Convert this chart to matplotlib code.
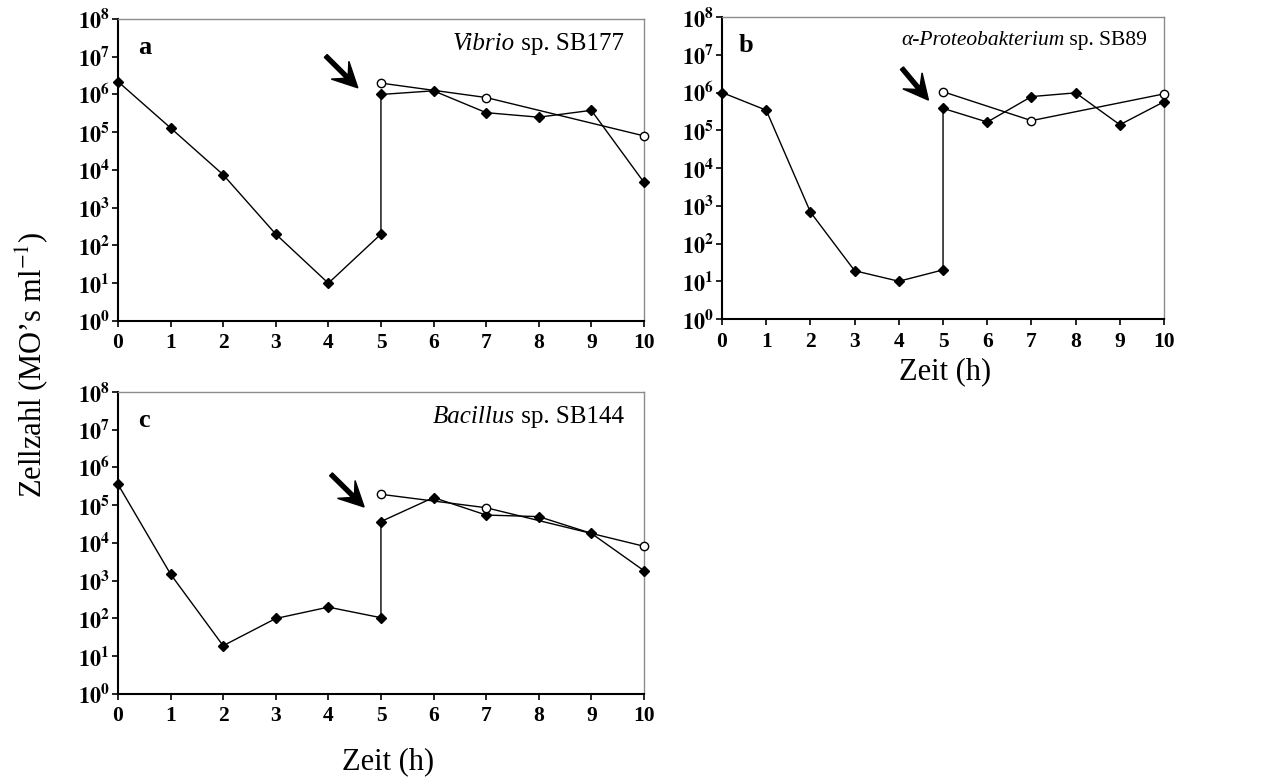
"""
Zellzahl-Verlauf (log) fuer drei Isolate, Panels a-c.
"""

import matplotlib
matplotlib.use("Agg")
import matplotlib.pyplot as plt
from matplotlib.patches import FancyArrow
from matplotlib.transforms import IdentityTransform
from matplotlib.offsetbox import TextArea, HPacker, AnchoredOffsetbox

plt.rcParams["font.family"] = ["Liberation Serif", "DejaVu Serif"]
plt.rcParams["mathtext.fontset"] = "stix"

# x positions: the treatment at 5 h gives two values (before/after)
hours_filled = [0, 1, 2, 3, 4, 5, 5, 6, 7, 8, 9, 10]
hours_open = [5, 7, 10]

vibrio_filled = [2.2e6, 1.3e5, 7.5e3, 200, 10, 200, 1.0e6, 1.25e6, 3.3e5, 2.5e5, 3.8e5, 4.7e3]
vibrio_open = [2.0e6, 8.3e5, 8.0e4]

proteo_filled = [1.0e6, 3.4e5, 680, 19, 10, 20, 3.8e5, 1.65e5, 7.8e5, 9.8e5, 1.4e5, 5.7e5]
proteo_open = [1.05e6, 1.8e5, 9.2e5]

bacillus_filled = [3.6e5, 1.5e3, 19, 100, 200, 105, 3.7e4, 1.6e5, 5.5e4, 5.0e4, 1.8e4, 1.85e3]
bacillus_open = [1.95e5, 8.6e4, 8.2e3]

panels = [
    # letter, genus, strain, name size, filled, open, arrow tail, arrow head
    ("a", "Vibrio", " sp. SB177", 18, vibrio_filled, vibrio_open, (3.95, 1.05e7), (4.56, 1.5e6)),
    ("b", "\u03b1-Proteobakterium", " sp. SB89", 15.5, proteo_filled, proteo_open, (4.07, 4.4e6), (4.67, 6.3e5)),
    ("c", "Bacillus", " sp. SB144", 18, bacillus_filled, bacillus_open, (4.05, 6.6e5), (4.68, 9.0e4)),
]


def style_axes(ax):
    ax.set_yscale("log")
    ax.set_ylim(1, 1e8)
    ax.set_xlim(0, 10)
    ax.set_xticks(range(0, 11))
    ax.set_yticks([10 ** k for k in range(0, 9)])
    ax.yaxis.set_minor_locator(matplotlib.ticker.NullLocator())
    ax.set_yticklabels([r"$\mathbf{10^{%d}}$" % k for k in range(0, 9)], fontsize=16)
    ax.set_xticklabels([str(k) for k in range(0, 11)], fontsize=15.5, fontweight="bold")
    ax.tick_params(axis="both", direction="out", length=4, width=1.2)
    ax.tick_params(axis="x", pad=5)
    ax.tick_params(axis="y", pad=2)
    for side in ("left", "bottom"):
        ax.spines[side].set_color("black")
        ax.spines[side].set_linewidth(1.5)
    for side in ("top", "right"):
        ax.spines[side].set_color("#8c8c8c")
        ax.spines[side].set_linewidth(1.0)


def draw_arrow(fig, ax, tail, head):
    # barbed arrow drawn in pixels so the head keeps its shape on the log axis
    x0, y0 = ax.transData.transform(tail)
    x1, y1 = ax.transData.transform(head)
    arrow = FancyArrow(x0, y0, x1 - x0, y1 - y0, width=4, head_width=25,
                       head_length=25, overhang=0.38, length_includes_head=True,
                       color="black", transform=IdentityTransform())
    fig.patches.append(arrow)


def draw_panel(fig, ax, letter, genus, strain, size, filled, opened, tail, head):
    style_axes(ax)
    ax.plot(hours_filled, filled, color="black", lw=1.0, marker="D",
            markersize=5, markerfacecolor="black", clip_on=False, zorder=3)
    ax.plot(hours_open, opened, color="black", lw=1.0, marker="o",
            markersize=6, markerfacecolor="white", markeredgewidth=1.0,
            clip_on=False, zorder=4)
    draw_arrow(fig, ax, tail, head)
    ax.text(0.038, 0.905, letter, transform=ax.transAxes, fontsize=19,
            fontweight="bold", va="center", ha="left")

    name = HPacker(children=[
        TextArea(genus, textprops=dict(fontsize=size, style="italic")),
        TextArea(strain, textprops=dict(fontsize=size)),
    ], align="baseline", pad=0, sep=0)
    box = AnchoredOffsetbox(loc="upper right", child=name, pad=0, frameon=False,
                            bbox_to_anchor=(0.962, 0.955), bbox_transform=ax.transAxes,
                            borderpad=0)
    ax.add_artist(box)


def main():
    fig = plt.figure(figsize=(12.82, 7.84), dpi=100)
    ax_a = fig.add_axes([0.0920, 0.5906, 0.4103, 0.3852])
    ax_b = fig.add_axes([0.5632, 0.5931, 0.3448, 0.3852])
    ax_c = fig.add_axes([0.0920, 0.1148, 0.4103, 0.3852])

    for ax, spec in zip([ax_a, ax_b, ax_c], panels):
        draw_panel(fig, ax, *spec)

    fig.text(0.025, 0.535, "Zellzahl (MO\u2019s ml$^{-1}$)", rotation=90,
             fontsize=22, ha="center", va="center")
    fig.text(945 / 1282, 1 - 372 / 784, "Zeit (h)", fontsize=22, ha="center", va="center")
    fig.text(388 / 1282, 1 - 762 / 784, "Zeit (h)", fontsize=22, ha="center", va="center")

    fig.savefig("out.png", dpi=100)


if __name__ == "__main__":
    main()
